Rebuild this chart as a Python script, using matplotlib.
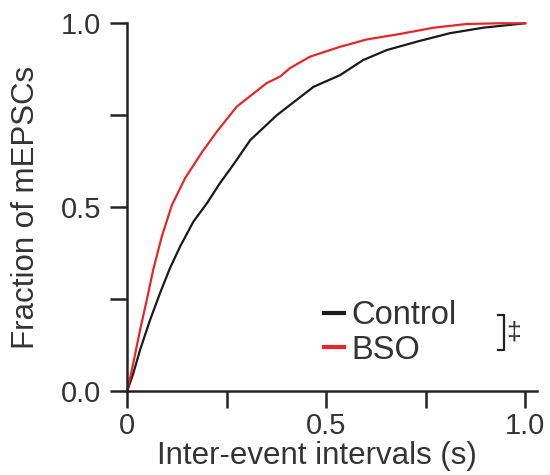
import matplotlib
matplotlib.use("Agg")
import matplotlib.pyplot as plt

plt.rcParams['font.family'] = ['Liberation Sans', 'DejaVu Sans']

# cumulative distributions
ctrl_x = [0, 0.015, 0.032, 0.057, 0.082, 0.107, 0.1325, 0.166, 0.20, 0.233,
          0.267, 0.309, 0.376, 0.468, 0.535, 0.593, 0.652, 0.728, 0.811,
          0.895, 1.0]
ctrl_y = [0, 0.047, 0.111, 0.192, 0.265, 0.333, 0.392, 0.46, 0.51, 0.565,
          0.616, 0.682, 0.75, 0.827, 0.859, 0.90, 0.927, 0.95, 0.973,
          0.988, 1.0]
bso_x = [0, 0.015, 0.032, 0.049, 0.065, 0.0865, 0.112, 0.145, 0.187, 0.225,
         0.275, 0.35, 0.384, 0.409, 0.459, 0.535, 0.602, 0.686, 0.77, 0.853,
         0.937, 1.0]
bso_y = [0, 0.075, 0.165, 0.247, 0.329, 0.419, 0.505, 0.578, 0.648, 0.705,
         0.773, 0.837, 0.855, 0.878, 0.909, 0.936, 0.956, 0.971, 0.988, 0.998,
         1.0, 1.0]

txt = '#333333'
red = '#e8262a'

fig = plt.figure(figsize=(5.5, 4.75), dpi=100)
ax = fig.add_axes([0.2315, 0.1775, 0.745, 0.7735])

ax.plot(ctrl_x, ctrl_y, color='#1a1a1a', lw=1.6, label='Control', clip_on=False)
ax.plot(bso_x, bso_y, color=red, lw=1.6, label='BSO', clip_on=False)

ax.set_xlim(0, 1.03)
ax.set_ylim(0, 1.0)
ax.set_xticks([0, 0.25, 0.5, 0.75, 1.0])
ax.set_xticklabels(['0', '', '0.5', '', '1.0'])
ax.set_yticks([0, 0.25, 0.5, 0.75, 1.0])
ax.set_yticklabels(['0.0', '', '0.5', '', '1.0'])

for s in ['top', 'right']:
    ax.spines[s].set_visible(False)
for s in ['left', 'bottom']:
    ax.spines[s].set_linewidth(1.8)
    ax.spines[s].set_color('#222222')
ax.tick_params(length=12, width=1.8, color='#222222', labelsize=21,
               labelcolor=txt)
ax.tick_params(axis='y', pad=7)
ax.tick_params(axis='x', pad=3)

ax.set_xlabel('Inter-event intervals (s)', fontsize=22.5, color=txt, labelpad=1)
ax.xaxis.label.set_x(0.462)
ax.set_ylabel('Fraction of mEPSCs', fontsize=22.5, color=txt, labelpad=14)

leg = ax.legend(loc='center left', bbox_to_anchor=(0.44, 0.157), frameon=False,
                fontsize=23.5, handlelength=0.6, handletextpad=0.25,
                labelspacing=0.1, borderpad=0)
for h in leg.get_lines():
    h.set_linewidth(3)
for t in leg.get_texts():
    t.set_color(txt)

# significance bracket
ax.plot([0.905, 0.92, 0.92, 0.905], [0.205, 0.205, 0.11, 0.11],
        transform=ax.transAxes, color='#222222', lw=1.6, clip_on=False)
ax.text(0.942, 0.158, '\u2021', transform=ax.transAxes, fontsize=19,
        color=txt, ha='center', va='center')

fig.savefig('out.png', dpi=100)
